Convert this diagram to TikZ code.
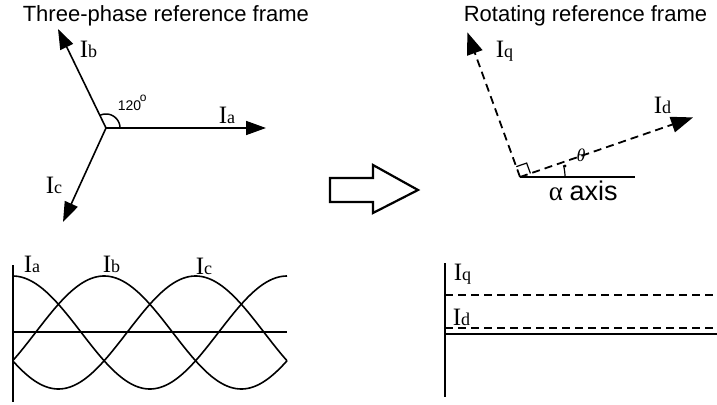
\documentclass[tikz,border=0pt]{standalone}
\usepackage{fontspec}
\setmainfont{Liberation Serif}
\setsansfont{Liberation Sans}
\usetikzlibrary{arrows.meta,calc}
\newcommand{\Isub}[1]{{\fontsize{25}{25}\selectfont I}{\fontsize{18}{18}\selectfont #1}}
\begin{document}
\begin{tikzpicture}[x=1pt,y=-1pt,line width=1.6pt,
  vec/.style={-{Triangle[length=20pt,width=14pt]}},
  dvec/.style={line width=1.8pt,-{Triangle[length=22pt,width=16pt]},dash pattern=on 8pt off 5pt},
  dline/.style={line width=1.8pt,dash pattern=on 8pt off 5pt},
  lbl/.style={anchor=base west,inner sep=0pt,font=\rmfamily},
  ttl/.style={anchor=base west,inner sep=0pt,font=\sffamily\fontsize{22}{22}\selectfont},
  wave/.style={line width=1.6pt,samples=120,smooth}]
\useasboundingbox (0,0) rectangle (717,404);
% titles
\node[ttl] (t1) at (22,22) {Three-phase reference frame};
\node[ttl] (t2) at (463,22) {Rotating reference frame};
% three-phase star
\coordinate (O1) at (106,128);
\coordinate (A) at (266,128);
\coordinate (B) at (58,29);
\coordinate (C) at (63,222);
\draw[vec] (O1) -- (A);
\draw[vec] (O1) -- (B);
\draw[vec] (O1) -- (C);
\draw[line width=1.5pt] plot[domain=0:-116,samples=30] ({106+14*cos(\x)},{128+14*sin(\x)});
\node[lbl] (la) at (218,123) {\Isub{a}};
\node[lbl] (lb) at (79,58) {\Isub{b}};
\node[lbl] (lc) at (45,193) {\Isub{c}};
\node[anchor=base west,inner sep=0pt,font=\sffamily\fontsize{14}{14}\selectfont] (deg) at (117,110) {120};
\node[anchor=base west,inner sep=0pt,font=\sffamily\fontsize{12}{12}\selectfont] (degsym) at (139,101) {o};
% hollow arrow
\draw[line width=2.2pt,line join=miter] (330,178) -- (373,178) -- (373,165) -- (418,190) -- (373,213) -- (373,202) -- (330,202) -- cycle;
% rotating frame
\coordinate (O2) at (520,177);
\coordinate (Q) at ($(O2)+(-110:154)$);
\coordinate (D) at ($(O2)+(-19:183)$);
\coordinate (AX) at (635,177);
\draw (O2) -- (AX);
\draw[dvec] (O2) -- (Q);
\draw[dvec] (O2) -- (D);
\draw[line width=1.2pt] ($(O2)+(-19:11)$) -- ($(O2)+(-19:11)+(-110:11)$) -- ($(O2)+(-110:11)$);
\draw[line width=1.2pt] plot[domain=0:-15,samples=20] ({520+45*cos(\x)},{177+45*sin(\x)});
\fill (565,166) circle (1.6);
\node[inner sep=0pt,font=\rmfamily\itshape\fontsize{18}{18}\selectfont] (th) at (581,155) {θ};
\node[lbl] (lq) at (495,57) {\Isub{q}};
\node[lbl] (ld) at (653,113) {\Isub{d}};
\node[anchor=base west,inner sep=0pt] (alx) at (548,200) {\fontsize{27}{27}\selectfont\rmfamily α \sffamily axis};
% waveforms
\coordinate (V1a) at (12.7,265);
\coordinate (V1b) at (12.7,402);
\coordinate (H1a) at (12.7,332);
\coordinate (H1b) at (287,332);
\draw (V1a) -- (V1b);
\draw (H1a) -- (H1b);
\draw[wave] plot[domain=12.7:287] (\x,{332.5-56.5*cos(1.3124*(\x-12.7))});
\draw[wave] plot[domain=12.7:287] (\x,{332.5-56.5*cos(1.3124*(\x-12.7)-120)});
\draw[wave] plot[domain=12.7:287] (\x,{332.5-56.5*cos(1.3124*(\x-12.7)-240)});
\node[lbl] (wa) at (23,272) {\Isub{a}};
\node[lbl] (wb) at (102,272) {\Isub{b}};
\node[lbl] (wc) at (195,274) {\Isub{c}};
% dq waveforms
\coordinate (V2a) at (445,263);
\coordinate (V2b) at (445,397);
\coordinate (S2a) at (445,334);
\coordinate (S2b) at (717,334);
\coordinate (Q2a) at (445,295);
\coordinate (Q2b) at (717,295);
\coordinate (D2a) at (445,328);
\coordinate (D2b) at (717,328);
\draw (V2a) -- (V2b);
\draw (S2a) -- (S2b);
\draw[dline] (Q2a) -- (Q2b);
\draw[dline] (D2a) -- (D2b);
\node[lbl] (rq) at (453,280) {\Isub{q}};
\node[lbl] (rd) at (452,325) {\Isub{d}};
\end{tikzpicture}
\end{document}
